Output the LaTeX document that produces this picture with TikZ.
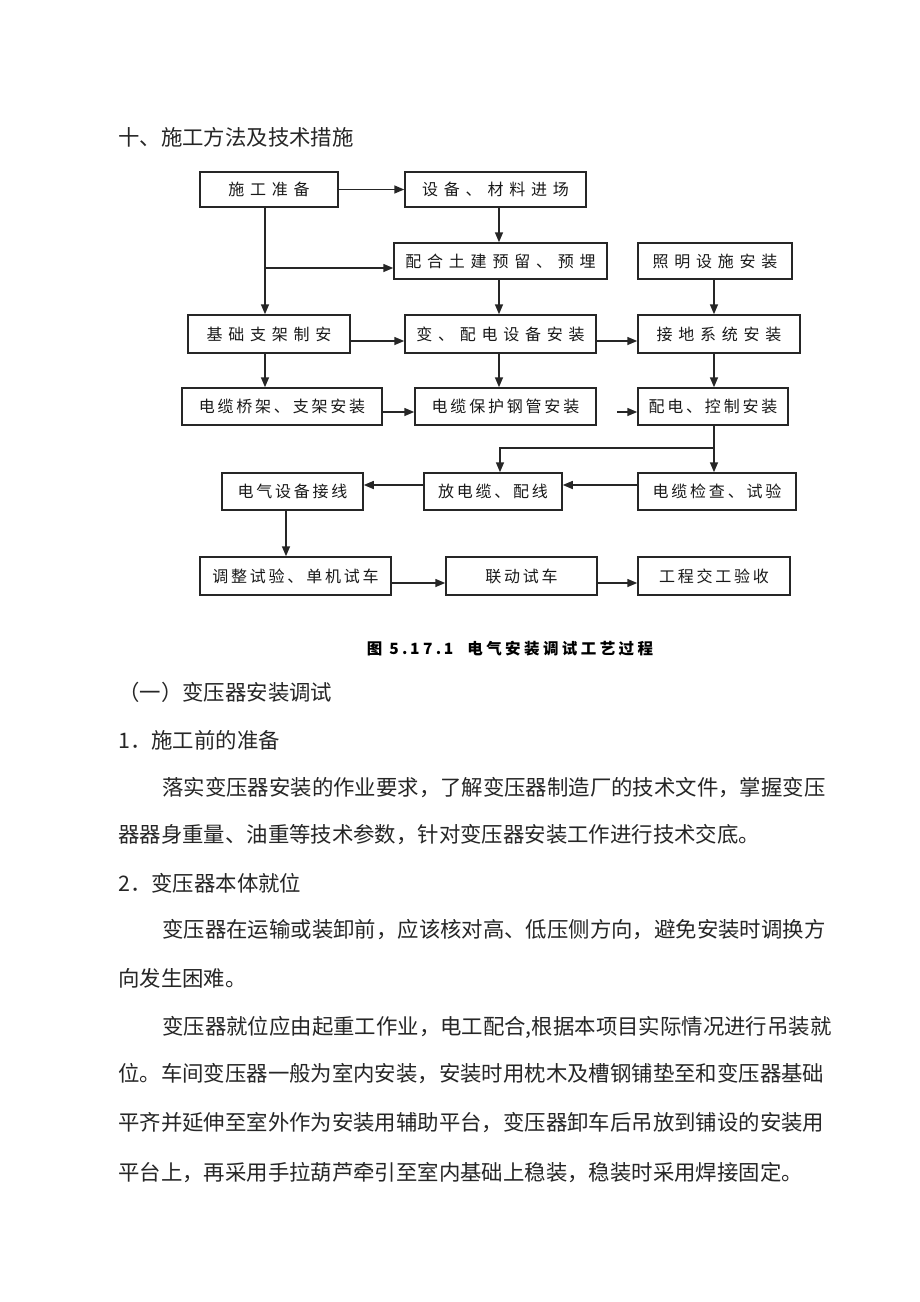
\documentclass[tikz,border=0pt]{standalone}
\usepackage{fontspec}
\newfontfamily\cjk{Noto Sans CJK SC}
\newfontfamily\cjkw[LetterSpace=36]{Noto Sans CJK SC}
\newfontfamily\cjkn[LetterSpace=17.5]{Noto Sans CJK SC}
\newfontfamily\cjkc[LetterSpace=22]{Noto Sans CJK SC}
\usetikzlibrary{arrows.meta}
\tikzset{
  box/.style={draw=black!85, line width=1.5pt, inner sep=0pt, text=black!90,
    font=\cjkw\fontsize{16}{16}\selectfont},
  nbox/.style={box, font=\cjkn\fontsize{16}{16}\selectfont},
  arr/.style={draw=black!85, line width=1.5pt, -{Triangle[length=10pt,width=8pt]}},
  body/.style={anchor=west, inner sep=0pt, text=black!85,
    font=\cjk\fontsize{21.4}{24}\selectfont},
}
\begin{document}
\begin{tikzpicture}[x=1pt,y=-1pt]
\fill[white] (0,0) rectangle (920,1302);
\useasboundingbox (0,0) rectangle (920,1302);

% heading
\node[body] (head) at (118,137) {十、施工方法及技术措施};

% column / row helpers
\coordinate (c1) at (265,0);
\coordinate (c2) at (499,0);
\coordinate (c3) at (714,0);
\coordinate (c4) at (286,0);
\coordinate (c5) at (500,0);
\coordinate (r1) at (0,268);
\coordinate (r3) at (0,341);
\coordinate (r4) at (0,412);
\coordinate (r5) at (0,448);
\coordinate (r6) at (0,485);
\coordinate (r7) at (0,583);
\coordinate (fs) at (617,412);

% boxes
\node[box, minimum width=138pt, minimum height=35pt] (prep)  at (269,189.5) {施工准备};
\node[box, minimum width=181pt, minimum height=35pt] (equip) at (495.5,189.5) {设备、材料进场};
\node[box, minimum width=213pt, minimum height=36pt] (civil) at (500.5,261) {配合土建预留、预埋};
\node[box, minimum width=154pt, minimum height=36pt] (light) at (715,261) {照明设施安装};
\node[box, minimum width=162pt, minimum height=38pt] (base)  at (269,334) {基础支架制安};
\node[box, minimum width=191pt, minimum height=38pt] (trans) at (500.5,334) {变、配电设备安装};
\node[box, minimum width=162pt, minimum height=38pt] (ground) at (719,334) {接地系统安装};
\node[nbox, minimum width=200pt, minimum height=37pt] (tray) at (282,406.5) {电缆桥架、支架安装};
\node[nbox, minimum width=181pt, minimum height=37pt] (pipe) at (505.5,406.5) {电缆保护钢管安装};
\node[nbox, minimum width=150pt, minimum height=37pt] (ctrl) at (713,406.5) {配电、控制安装};
\node[nbox, minimum width=141pt, minimum height=37pt] (wire) at (292.5,491.5) {电气设备接线};
\node[nbox, minimum width=138pt, minimum height=37pt] (lay) at (493,491.5) {放电缆、配线};
\node[nbox, minimum width=158pt, minimum height=37pt] (check) at (717,491.5) {电缆检查、试验};
\node[nbox, minimum width=191pt, minimum height=38pt] (adjust) at (295.5,576) {调整试验、单机试车};
\node[nbox, minimum width=151pt, minimum height=38pt] (link) at (521.5,576) {联动试车};
\node[nbox, minimum width=152pt, minimum height=38pt] (accept) at (714,576) {工程交工验收};

% connectors
\draw[arr] (prep.east) -- (equip.west);
\draw[arr] (prep.south -| c1) -- (base.north -| c1);
\draw[arr] (c1 |- r1) -- (civil.west |- r1);
\draw[arr] (equip.south -| c2) -- (civil.north -| c2);
\draw[arr] (civil.south -| c2) -- (trans.north -| c2);
\draw[arr] (base.east |- r3) -- (trans.west |- r3);
\draw[arr] (trans.east |- r3) -- (ground.west |- r3);
\draw[arr] (light.south -| c3) -- (ground.north -| c3);
\draw[arr] (base.south -| c1) -- (tray.north -| c1);
\draw[arr] (tray.east |- r4) -- (pipe.west |- r4);
\draw[arr] (trans.south -| c2) -- (pipe.north -| c2);
\draw[arr] (fs) -- (ctrl.west |- fs);
\draw[arr] (ground.south -| c3) -- (ctrl.north -| c3);
\draw[arr] (ctrl.south -| c3) -- (check.north -| c3);
\draw[arr] (c3 |- r5) -| (lay.north -| c5);
\draw[arr] (check.west |- r6) -- (lay.east |- r6);
\draw[arr] (lay.west |- r6) -- (wire.east |- r6);
\draw[arr] (wire.south -| c4) -- (adjust.north -| c4);
\draw[arr] (adjust.east |- r7) -- (link.west |- r7);
\draw[arr] (link.east |- r7) -- (accept.west |- r7);

% caption
\node[inner sep=0pt, text=black, font=\cjkc\bfseries\fontsize{15.5}{16}\selectfont] (cap) at (510,649)
  {图 5.\,17.\,1\hspace{14pt}电气安装调试工艺过程};

% body text
\node[body] (t1) at (118,692) {（一）变压器安装调试};
\node[body] (t2) at (118,740) {1．施工前的准备};
\node[body] (t3) at (162,788) {落实变压器安装的作业要求，了解变压器制造厂的技术文件，掌握变压};
\node[body] (t4) at (118,835) {器器身重量、油重等技术参数，针对变压器安装工作进行技术交底。};
\node[body] (t5) at (118,883) {2．变压器本体就位};
\node[body] (t6) at (162,930) {变压器在运输或装卸前，应该核对高、低压侧方向，避免安装时调换方};
\node[body] (t7) at (118,978) {向发生困难。};
\node[body] (t8) at (162,1027) {变压器就位应由起重工作业，电工配合,根据本项目实际情况进行吊装就};
\node[body] (t9) at (118,1074) {位。车间变压器一般为室内安装，安装时用枕木及槽钢铺垫至和变压器基础};
\node[body] (t10) at (118,1123) {平齐并延伸至室外作为安装用辅助平台，变压器卸车后吊放到铺设的安装用};
\node[body] (t11) at (118,1173) {平台上，再采用手拉葫芦牵引至室内基础上稳装，稳装时采用焊接固定。};
\end{tikzpicture}
\end{document}
